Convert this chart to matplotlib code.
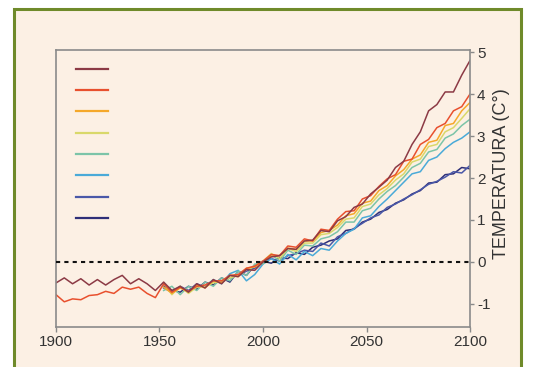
import matplotlib
matplotlib.use("Agg")
import matplotlib.pyplot as plt
from matplotlib.lines import Line2D
from matplotlib.patches import Rectangle

plt.rcParams['font.family'] = ['Liberation Sans', 'DejaVu Sans']
plt.rcParams['axes.unicode_minus'] = False

# ---- data ----
years_long = list(range(1900, 2101, 4))
years_short = list(range(1952, 2101, 4))

maroon = [-0.5, -0.38, -0.52, -0.4, -0.55, -0.42, -0.55, -0.42, -0.32, -0.52, -0.4, -0.52, -0.68,
          -0.48, -0.68, -0.58, -0.72, -0.52, -0.62, -0.42, -0.52, -0.32, -0.35, -0.18, -0.2,
          0.0, 0.12, 0.15, 0.32, 0.3, 0.5, 0.52, 0.75, 0.72, 0.98, 1.08, 1.3, 1.38, 1.62, 1.78,
          1.95, 2.25, 2.4, 2.8, 3.1, 3.6, 3.75, 4.05, 4.05, 4.45, 4.8]
red = [-0.78, -0.95, -0.88, -0.9, -0.8, -0.78, -0.7, -0.75, -0.6, -0.65, -0.6, -0.75, -0.85,
       -0.52, -0.72, -0.6, -0.7, -0.58, -0.55, -0.45, -0.45, -0.32, -0.3, -0.15, -0.1,
       0.02, 0.18, 0.15, 0.38, 0.35, 0.55, 0.5, 0.78, 0.75, 1.02, 1.2, 1.22, 1.5, 1.58, 1.8,
       1.98, 2.08, 2.4, 2.45, 2.8, 2.92, 3.2, 3.3, 3.6, 3.7, 4.0]
orange = [-0.6, -0.75, -0.62, -0.72, -0.55, -0.62, -0.45, -0.5, -0.32, -0.35, -0.15, -0.12,
          0.0, 0.14, 0.15, 0.33, 0.3, 0.5, 0.5, 0.7, 0.75, 0.88, 1.1, 1.15, 1.4, 1.45, 1.7,
          1.82, 2.05, 2.2, 2.45, 2.55, 2.85, 2.9, 3.25, 3.3, 3.6, 3.8]
yellow = [-0.5, -0.78, -0.58, -0.75, -0.6, -0.58, -0.5, -0.45, -0.38, -0.32, -0.18, -0.1,
          0.02, 0.2, 0.08, 0.32, 0.25, 0.45, 0.45, 0.65, 0.68, 0.82, 1.02, 1.05, 1.32, 1.38,
          1.6, 1.75, 1.95, 2.1, 2.38, 2.45, 2.75, 2.8, 3.1, 3.2, 3.42, 3.65]
teal = [-0.68, -0.58, -0.78, -0.58, -0.68, -0.48, -0.58, -0.38, -0.45, -0.22, -0.32, -0.05,
        -0.05, 0.18, 0.02, 0.28, 0.18, 0.4, 0.38, 0.55, 0.6, 0.72, 0.95, 0.95, 1.22, 1.28,
        1.5, 1.68, 1.82, 2.02, 2.25, 2.35, 2.62, 2.68, 2.95, 3.05, 3.25, 3.4]
lightblue = [-0.6, -0.7, -0.6, -0.72, -0.58, -0.58, -0.42, -0.52, -0.28, -0.2, -0.45, -0.3,
             -0.05, 0.08, -0.05, 0.18, 0.05, 0.25, 0.15, 0.32, 0.28, 0.5, 0.68, 0.78, 1.05,
             1.1, 1.32, 1.5, 1.7, 1.9, 2.1, 2.15, 2.42, 2.5, 2.7, 2.85, 2.95, 3.1]
blue = [-0.62, -0.72, -0.58, -0.68, -0.52, -0.6, -0.45, -0.48, -0.38, -0.32, -0.22, -0.15,
        0.0, 0.08, 0.02, 0.15, 0.2, 0.28, 0.25, 0.45, 0.38, 0.6, 0.68, 0.8, 0.92, 1.05, 1.12,
        1.3, 1.38, 1.5, 1.6, 1.72, 1.85, 1.92, 2.02, 2.15, 2.12, 2.3]
navy = [-0.58, -0.68, -0.72, -0.58, -0.65, -0.48, -0.55, -0.38, -0.48, -0.22, -0.32, -0.08,
        0.02, -0.03, 0.1, 0.08, 0.22, 0.18, 0.35, 0.4, 0.5, 0.55, 0.75, 0.78, 0.95, 1.02, 1.18,
        1.25, 1.4, 1.48, 1.62, 1.7, 1.88, 1.9, 2.08, 2.1, 2.25, 2.22]

series = [
    (years_long, maroon, '#8c3a45'),
    (years_long, red, '#e8502e'),
    (years_short, orange, '#f5a82a'),
    (years_short, yellow, '#d9d86a'),
    (years_short, teal, '#7cc4a8'),
    (years_short, lightblue, '#4aaad8'),
    (years_short, blue, '#4a58a8'),
    (years_short, navy, '#2e2f78'),
]

x_ticks = [1900, 1950, 2000, 2050, 2100]
y_ticks = [-1, 0, 1, 2, 3, 4, 5]
y_label = 'TEMPERATURA (C°)'

# ---- figure ----
W, H = 539, 367
fig = plt.figure(figsize=(W / 100, H / 100), dpi=100)
fig.patch.set_facecolor('white')
bg = '#fcf0e4'
frame = Rectangle((14 / W, -0.05), (521 - 14) / W, 1.05 - 9 / H,
                  transform=fig.transFigure, facecolor=bg,
                  edgecolor='#6f8a2a', linewidth=2.2, zorder=-10)
fig.add_artist(frame)

ax = fig.add_axes([56 / W, 1 - 327 / H, (470 - 56) / W, (327 - 50) / H])
ax.set_facecolor('none')
ax.set_zorder(1)

for xs, ys, c in reversed(series):
    ax.plot(xs, ys, color=c, lw=1.1, zorder=2)

ax.axhline(0, color='#111111', lw=1.5, ls=(0, (2, 2)), zorder=3)

ax.set_xlim(1900, 2100)
ax.set_ylim(-1.55, 5.05)
ax.set_xticks(x_ticks)
ax.set_yticks(y_ticks)
ax.yaxis.tick_right()
for s in ax.spines.values():
    s.set_color('#8a8a8a')
    s.set_linewidth(1.2)
ax.tick_params(axis='x', direction='out', length=3.6, width=1, color='#8a8a8a',
               labelsize=11, labelcolor='#333333', pad=2.5)
ax.tick_params(axis='y', direction='out', length=3, width=1, color='#8a8a8a',
               labelsize=11, labelcolor='#333333', pad=2)

fig.text(502 / W, 1 - 174 / H, y_label, rotation=90, ha='center', va='center',
         fontsize=13, color='#333333', zorder=5)

handles = [Line2D([], [], color=c, lw=1.6) for _, _, c in series]
leg = ax.legend(handles, [''] * len(handles), loc='upper left',
                bbox_to_anchor=(0.048, 0.955), frameon=False, fontsize=10,
                handlelength=2.3, handletextpad=0, borderpad=0, borderaxespad=0,
                labelspacing=0.53)

fig.savefig('out.png', dpi=100, facecolor=fig.get_facecolor())
